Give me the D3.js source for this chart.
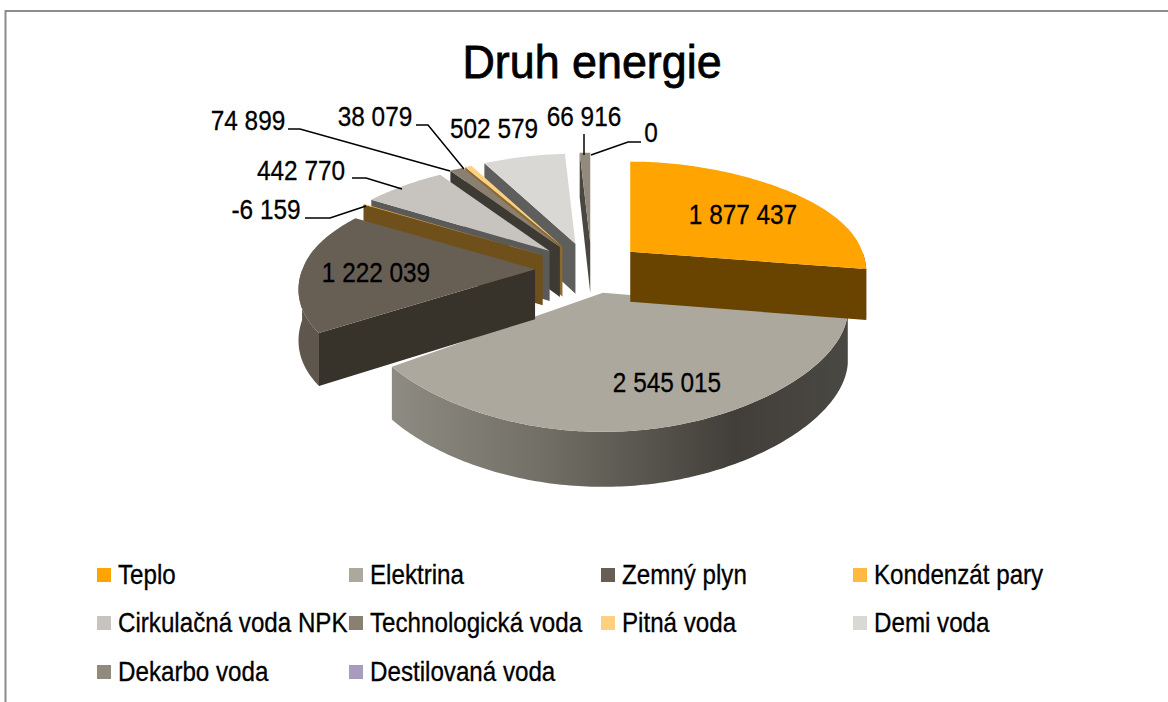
<!DOCTYPE html>
<html><head><meta charset="utf-8">
<script src="https://cdn.jsdelivr.net/npm/d3@7/dist/d3.min.js"></script>
<style>html,body{margin:0;padding:0;background:#fff;overflow:hidden}svg{display:block}
text{font-family:"Liberation Sans",sans-serif;fill:#000}</style>
</head><body><svg id="c" width="1168" height="702"></svg>
<script>
const categories=["Teplo","Elektrina","Zemný plyn","Kondenzát pary","Cirkulačná voda NPK","Technologická voda","Pitná voda","Demi voda","Dekarbo voda","Destilovaná voda"];
const values=[1877437,2545015,1222039,-6159,442770,74899,38079,502579,66916,0];
const topColors=["#FFA400","#ADA89E","#675E54","#FFB940","#C7C4BF","#8A8072","#FFD080","#D9D8D5","#928A7D","#A99BBD"];
const wallColors=["#694300","#5F5C55","#37332B","#70501A","#5A5A58","#3D3A33","#8A6A30","#5E5E5C","#4A4740","#5A5070"];
const legendColors=["#FFA400","#ADA89E","#675E54","#FFB940","#C7C4BF","#8A8072","#FFD080","#D9D8D5","#928A7D","#A99BBD"];
const drawOrder=[1,9,8,7,6,5,4,3,2,0];
const labelPos=[[743,214],[667,382],[376,272],[266,209],[301,170],[248,120],[375,116],[494,128],[584,116],[651,132]];
const leaders=[null,null,null,[[305,218],[330,218],[366,206]],[[352,178],[366,178],[402,189]],[[288,129],[300,129],[450,171]],[[416,125],[428,125],[464,169]],null,[[584,134],[584,155]],[[591,155],[628,142],[641,142]]];

const svg=d3.select("#c");
const fmt=d3.formatLocale({decimal:",",thousands:" ",grouping:[3],currency:["",""],minus:"-"}).format(",d");
const defs=svg.append("defs");
const grad=defs.append("linearGradient").attr("id","rimE");
[[0,"#8E8B82"],[0.35,"#706D64"],[0.75,"#423F3A"],[1,"#4A4843"]].forEach(s=>grad.append("stop").attr("offset",s[0]).attr("stop-color",s[1]));

svg.append("path").attr("d","M5.5 702V11H1168").attr("fill","none").attr("stroke","#8C8C8C").attr("stroke-width",2);
svg.append("text").attr("transform","translate(592,78) scale(.975,1)").attr("text-anchor","middle").attr("font-size",46).attr("stroke","#000").attr("stroke-width",.8).text("Druh energie");

const cx=592,cy=268,R=240,Ry=114,explodeRight=50,explodeLeft=57,tiltK=.46;
const pie=d3.pie().sort(null).value(d=>Math.abs(d)).startAngle(0).endAngle(2*Math.PI);
const arcs=pie(values);
const rim=(a,s,near)=>{const X=Math.sin(a),Y=-Math.cos(a);
  const gainX=(near||Y<0)?1:1+.2*Y*Y;
  const gainY=near?1:(Y<0?1/s:.9);
  return [s*R*X*(1+.17*Y-.1*Y*Y)*gainX,s*Ry*Y*(1+.21*Y)*gainY];};
const depth=a=>50-5*Math.cos(a);
const line=d3.line();
const pieces=svg.append("g");
drawOrder.forEach(i=>{
  const s=arcs[i]; if(s.value===0) return;
  const m=(s.startAngle+s.endAngle)/2;
  const ym=-Math.cos(m), near=ym>.5;
  const sc=.967+.043*Math.max(0,ym);
  const e=Math.sin(m)>0?explodeRight:explodeLeft;
  const ax=cx+e*Math.sin(m), ay=cy+55*tiltK*ym;
  const P=a=>{const r=rim(a,sc,near);return [ax+r[0],ay+r[1]];};
  const n=Math.max(2,Math.ceil((s.endAngle-s.startAngle)*60));
  const angles=d3.range(n+1).map(k=>s.startAngle+(s.endAngle-s.startAngle)*k/n);
  const d0=50;
  const wall=(a)=>{const p=P(a),dd=depth(a);
    pieces.append("path").attr("d",line([[ax,ay],p,[p[0],p[1]+dd],[ax,ay+d0]])+"Z").attr("fill",wallColors[i]);};
  if(Math.sin(s.startAngle)<0) wall(s.startAngle);
  if(Math.sin(s.endAngle)>0) wall(s.endAngle);
  const front=angles.filter(a=>Math.cos(a)<0);
  if(front.length>1){
    const t=front.map(P), b=front.map(a=>{const p=P(a);return [p[0],p[1]+depth(a)];}).reverse();
    pieces.append("path").attr("d",line(t.concat(b))+"Z").attr("fill",i===1?"url(#rimE)":i===2?"#5F574D":wallColors[i]);
  }
  pieces.append("path").attr("d",line([[ax,ay]].concat(angles.map(P)))+"Z").attr("fill",topColors[i]);
});

const lab=svg.append("g").attr("font-size",28).attr("stroke","#000").attr("stroke-width",.3);
values.forEach((v,i)=>lab.append("text").attr("transform",`translate(${labelPos[i][0]},${labelPos[i][1]+10}) scale(.87,1)`).attr("text-anchor","middle").text(fmt(v)));
svg.append("g").selectAll("path").data(leaders.filter(Boolean)).join("path").attr("d",d=>line(d)).attr("fill","none").attr("stroke","#000").attr("stroke-width",1.5);

const legX=[97,349,601,853],legY=[575,623,672];
const leg=svg.append("g").attr("stroke","#000").attr("stroke-width",.3);
categories.forEach((c,i)=>{
  const x=legX[i%4],y=legY[Math.floor(i/4)];
  leg.append("rect").attr("x",x).attr("y",y-7).attr("width",14).attr("height",14).attr("fill",legendColors[i]).attr("stroke","none");
  leg.append("text").attr("transform",`translate(${x+21},${y+9}) scale(.895,1)`).attr("font-size",27).text(c);
});
</script></body></html>
